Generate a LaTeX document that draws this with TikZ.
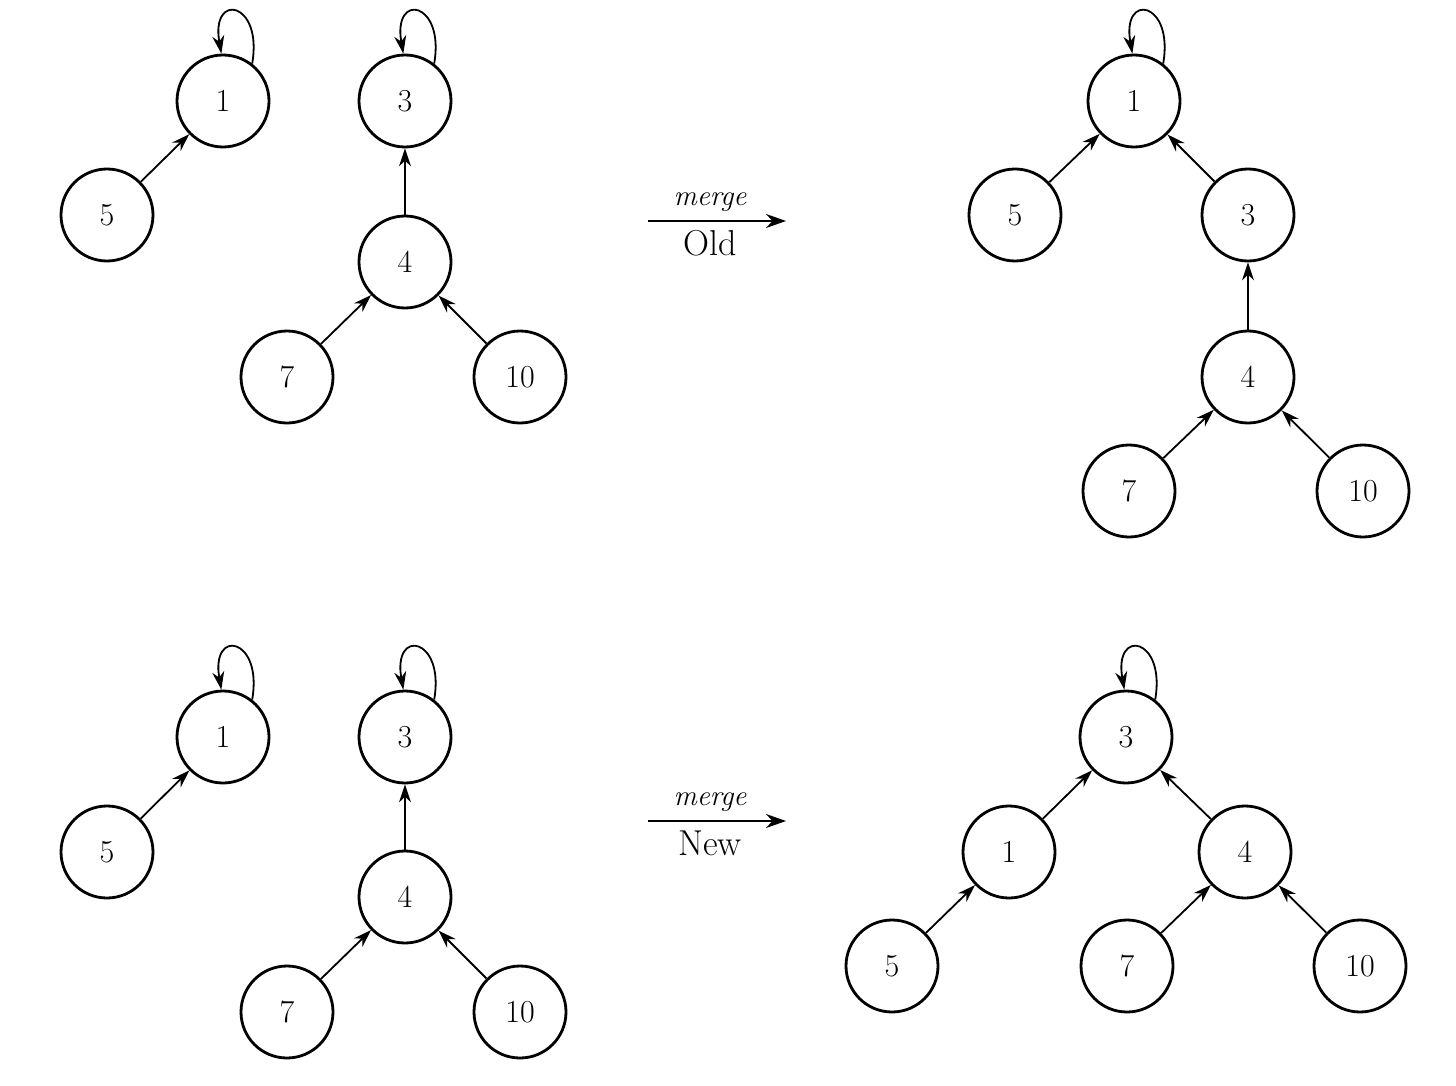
\documentclass[tikz,border=0pt]{standalone}
\usetikzlibrary{arrows.meta}
\begin{document}
\begin{tikzpicture}[x=0.5pt,y=-0.5pt,
  vtx/.style={circle,draw,line width=1.4pt,minimum size=46pt,inner sep=0pt,font=\fontsize{16}{19}\selectfont},
  edge/.style={-{Stealth[length=9pt,width=6pt]},line width=0.9pt},
  selfloop/.style={-{Stealth[length=9pt,width=6pt]},line width=0.9pt},
  op/.style={-{Stealth[length=10pt,width=7pt]},line width=1pt},
  oplabup/.style={above=1pt,xshift=-3.5pt,font=\fontsize{14.5}{16}\selectfont\itshape},
  oplabdn/.style={below=1pt,xshift=-3.5pt,font=\fontsize{18}{20}\selectfont}]
\useasboundingbox (0,0) rectangle (1456,1086);
% top left
\node[vtx] (a1) at (223,101) {1};
\node[vtx] (a3) at (405,101) {3};
\node[vtx] (a5) at (107,215) {5};
\node[vtx] (a4) at (405,262) {4};
\node[vtx] (a7) at (287,377) {7};
\node[vtx] (a10) at (520,377) {10};
\draw[edge] (a5) -- (a1);
\draw[edge] (a4) -- (a3);
\draw[edge] (a7) -- (a4);
\draw[edge] (a10) -- (a4);
\draw[selfloop] (a1.52) to[out=80,in=100,looseness=5] (a1.92);
\draw[selfloop] (a3.52) to[out=80,in=100,looseness=5] (a3.92);
% top arrow
\coordinate (o1) at (648,221);
\coordinate (o2) at (786,221);
\draw[op] (o1) -- node[oplabup]{merge} node[oplabdn]{Old} (o2);
% top right
\node[vtx] (b1) at (1134,101) {1};
\node[vtx] (b5) at (1015,215) {5};
\node[vtx] (b3) at (1248,215) {3};
\node[vtx] (b4) at (1248,377) {4};
\node[vtx] (b7) at (1129,491) {7};
\node[vtx] (b10) at (1363,491) {10};
\draw[edge] (b5) -- (b1);
\draw[edge] (b3) -- (b1);
\draw[edge] (b4) -- (b3);
\draw[edge] (b7) -- (b4);
\draw[edge] (b10) -- (b4);
\draw[selfloop] (b1.52) to[out=80,in=100,looseness=5] (b1.92);
% bottom left
\node[vtx] (c1) at (223,737) {1};
\node[vtx] (c3) at (405,737) {3};
\node[vtx] (c5) at (107,852) {5};
\node[vtx] (c4) at (405,897) {4};
\node[vtx] (c7) at (287,1012) {7};
\node[vtx] (c10) at (520,1012) {10};
\draw[edge] (c5) -- (c1);
\draw[edge] (c4) -- (c3);
\draw[edge] (c7) -- (c4);
\draw[edge] (c10) -- (c4);
\draw[selfloop] (c1.52) to[out=80,in=100,looseness=5] (c1.92);
\draw[selfloop] (c3.52) to[out=80,in=100,looseness=5] (c3.92);
% bottom arrow
\coordinate (n1) at (648,821);
\coordinate (n2) at (786,821);
\draw[op] (n1) -- node[oplabup]{merge} node[oplabdn]{New} (n2);
% bottom right
\node[vtx] (d3) at (1126,737) {3};
\node[vtx] (d1) at (1009,852) {1};
\node[vtx] (d4) at (1245,852) {4};
\node[vtx] (d5) at (892,966) {5};
\node[vtx] (d7) at (1127,966) {7};
\node[vtx] (d10) at (1360,966) {10};
\draw[edge] (d1) -- (d3);
\draw[edge] (d4) -- (d3);
\draw[edge] (d5) -- (d1);
\draw[edge] (d7) -- (d4);
\draw[edge] (d10) -- (d4);
\draw[selfloop] (d3.52) to[out=80,in=100,looseness=5] (d3.92);
\end{tikzpicture}
\end{document}
